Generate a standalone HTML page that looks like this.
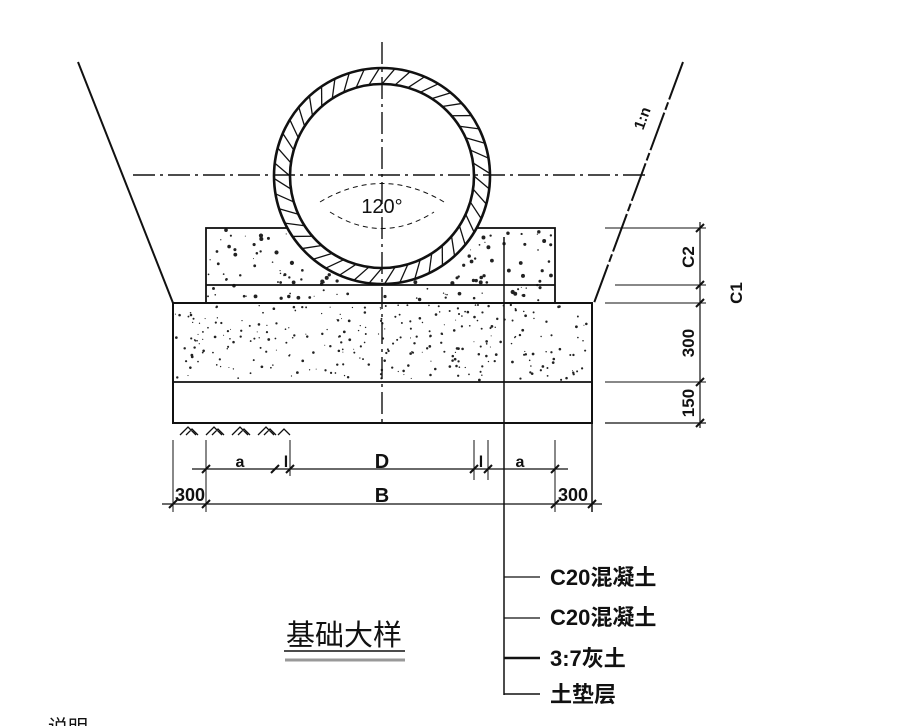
<!DOCTYPE html>
<html><head><meta charset="utf-8"><style>
html,body{margin:0;padding:0;background:#fff;}
svg{display:block;}
text{font-family:"Liberation Sans","Noto Sans CJK SC",sans-serif;fill:#111;}
</style></head><body>
<svg id="s" width="898" height="726" viewBox="0 0 898 726" xmlns="http://www.w3.org/2000/svg">
<rect width="898" height="726" fill="#fff"/>
<g id="dots" fill="#222"></g>
<g stroke="#111" fill="none">
<line x1="78" y1="62" x2="173" y2="303" stroke-width="2"/>
<line x1="683" y1="62" x2="594" y2="303" stroke-width="2" stroke-dasharray="40 3 8 3"/>
<rect x="206" y="228" width="349" height="75" stroke-width="1.8"/>
<line x1="206" y1="285" x2="555" y2="285" stroke-width="1.8"/>
<rect x="173" y="303" width="419" height="120" stroke-width="2"/>
<line x1="173" y1="382" x2="592" y2="382" stroke-width="1.8"/>
<circle cx="382" cy="176" r="108" fill="#fff" stroke-width="2.6"/>
<circle cx="382" cy="176" r="92" stroke-width="2.6"/>
<g id="hatch" stroke-width="1.3"></g>
<line x1="133" y1="175" x2="645" y2="175" stroke-width="1.6" stroke-dasharray="22 5 3 5"/>
<line x1="382" y1="42" x2="382" y2="423" stroke-width="1.4" stroke-dasharray="22 5 3 5"/>
<path d="M320 202 Q382 165 444 202" stroke-width="1" stroke-dasharray="5 4"/>
<path d="M330 212 Q382 245 434 212" stroke-width="1" stroke-dasharray="5 4"/>
<line x1="504" y1="237" x2="504" y2="695" stroke-width="1.5"/>
<line x1="504" y1="577" x2="540" y2="577" stroke-width="1.3"/>
<line x1="504" y1="618" x2="540" y2="618" stroke-width="1.3"/>
<line x1="504" y1="658" x2="540" y2="658" stroke-width="2.5"/>
<line x1="504" y1="694" x2="540" y2="694" stroke-width="1.5"/>
<line x1="605" y1="228" x2="706" y2="228" stroke-width="1"/>
<line x1="615" y1="285" x2="706" y2="285" stroke-width="1"/>
<line x1="605" y1="303" x2="706" y2="303" stroke-width="1"/>
<line x1="605" y1="382" x2="706" y2="382" stroke-width="1"/>
<line x1="605" y1="423" x2="706" y2="423" stroke-width="1.2"/>
<line x1="700" y1="222" x2="700" y2="428" stroke-width="1.2"/>
<g stroke-width="2">
<line x1="696" y1="232" x2="704" y2="224"/><line x1="696" y1="289" x2="704" y2="281"/>
<line x1="696" y1="307" x2="704" y2="299"/><line x1="696" y1="386" x2="704" y2="378"/>
<line x1="696" y1="427" x2="704" y2="419"/>
</g>
<line x1="192" y1="469" x2="568" y2="469" stroke-width="1.2"/>
<line x1="162" y1="504" x2="602" y2="504" stroke-width="1.2"/>
<g stroke-width="1">
<line x1="173" y1="440" x2="173" y2="512"/>
<line x1="206" y1="440" x2="206" y2="512"/>
<line x1="290" y1="440" x2="290" y2="476"/>
<line x1="474" y1="440" x2="474" y2="480"/>
<line x1="488" y1="440" x2="488" y2="480"/>
<line x1="555" y1="440" x2="555" y2="512"/>
<line x1="592" y1="423" x2="592" y2="512" stroke-width="1.5"/>
</g>
<g stroke-width="2">
<line x1="202" y1="473" x2="210" y2="465"/><line x1="271" y1="473" x2="279" y2="465"/>
<line x1="286" y1="473" x2="294" y2="465"/><line x1="470" y1="473" x2="478" y2="465"/>
<line x1="484" y1="473" x2="492" y2="465"/><line x1="551" y1="473" x2="559" y2="465"/>
<line x1="169" y1="508" x2="177" y2="500"/><line x1="202" y1="508" x2="210" y2="500"/>
<line x1="551" y1="508" x2="559" y2="500"/><line x1="588" y1="508" x2="596" y2="500"/>
</g>
<g stroke-width="1.3">
<path d="M180 435 l8 -8 l8 8 M186 435 l6 -6 l6 6 M206 435 l8 -8 l8 8 M212 435 l6 -6 l6 6 M232 435 l8 -8 l8 8 M238 435 l6 -6 l6 6 M258 435 l8 -8 l8 8 M264 435 l6 -6 l6 6 M278 435 l6 -6 l6 6"/>
</g>
<line x1="284" y1="651" x2="405" y2="651" stroke-width="1.5"/>
<line x1="285" y1="660" x2="405" y2="660" stroke-width="3" stroke="#999"/>
</g>
<g font-weight="bold">
<text x="240" y="467" font-size="16" text-anchor="middle">a</text>
<text x="286" y="467" font-size="16" text-anchor="middle">l</text>
<text x="382" y="468" font-size="20" text-anchor="middle">D</text>
<text x="481" y="467" font-size="16" text-anchor="middle">l</text>
<text x="520" y="467" font-size="16" text-anchor="middle">a</text>
<text x="190" y="501" font-size="18" text-anchor="middle">300</text>
<text x="382" y="502" font-size="20" text-anchor="middle">B</text>
<text x="573" y="501" font-size="18" text-anchor="middle">300</text>
<text transform="translate(694,257) rotate(-90)" font-size="17" text-anchor="middle">C2</text>
<text transform="translate(742,293) rotate(-90)" font-size="17" text-anchor="middle">C1</text>
<text transform="translate(694,343) rotate(-90)" font-size="17" text-anchor="middle">300</text>
<text transform="translate(694,403) rotate(-90)" font-size="17" text-anchor="middle">150</text>
<text transform="translate(647,120) rotate(-70)" font-size="15" text-anchor="middle">1:n</text>
<text x="382" y="213" font-size="20" text-anchor="middle" font-weight="normal" font-family="Liberation Serif">120°</text>
<text x="550" y="585" font-size="22">C20混凝土</text>
<text x="550" y="625" font-size="22">C20混凝土</text>
<text x="550" y="666" font-size="22">3:7灰土</text>
<text x="550" y="702" font-size="22">土垫层</text>
</g>
<text x="344" y="645" font-size="29" text-anchor="middle">基础大样</text>
<text x="48" y="734" font-size="20">说明</text>
</svg>
<script>
var ns="http://www.w3.org/2000/svg";
var h=document.getElementById("hatch");
for(var i=0;i<44;i++){var a=i/44*2*Math.PI;var c=Math.cos(a),s=Math.sin(a);
var l=document.createElementNS(ns,"line");
l.setAttribute("x1",382+92*c);l.setAttribute("y1",176+92*s);
l.setAttribute("x2",382+108*Math.cos(a+0.12));l.setAttribute("y2",176+108*Math.sin(a+0.12));h.appendChild(l);}
var d=document.getElementById("dots");var seed=7;function r(){seed=(seed*16807)%2147483647;return seed/2147483647;}
function fill(x,y,w,hh,n,sz){for(var i=0;i<n;i++){var px=x+r()*w,py=y+r()*hh;
var dx=px-382,dy=py-176;if(dx*dx+dy*dy<110*110)continue;
var e=document.createElementNS(ns,"circle");e.setAttribute("cx",px);e.setAttribute("cy",py);e.setAttribute("r",0.5+r()*sz);d.appendChild(e);}}
fill(208,230,345,72,160,1.6);fill(175,305,415,75,300,0.9);
</script>
</body></html>
